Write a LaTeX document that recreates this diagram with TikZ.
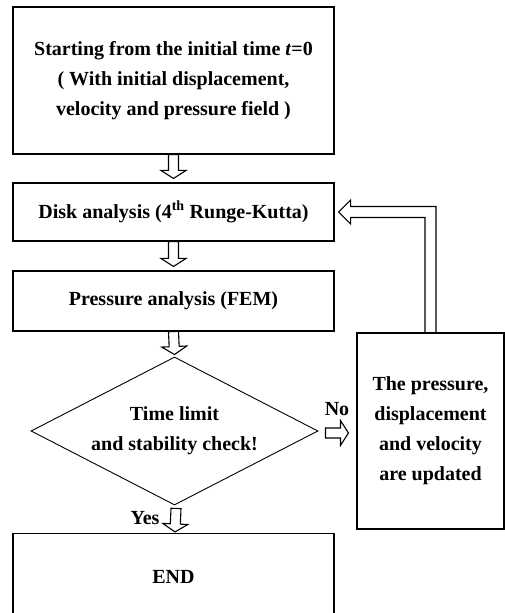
\documentclass[tikz,border=0pt]{standalone}
\usepackage{fontspec}
\setmainfont{Liberation Serif}
\usetikzlibrary{shapes,arrows,positioning,calc}
\newcommand{\ashaft}{5pt}
\newcommand{\ahead}{12.5pt}
\newcommand{\alen}{8pt}
\newcommand{\barrow}[2]{
  \coordinate (tail) at #1;
  \coordinate (tip) at #2;
  \coordinate (hb) at ($(tip)!\alen!(tail)$);
  \draw ($(tail)!\ashaft!90:(tip)$) -- ($(hb)!\ashaft!90:(tip)$) -- ($(hb)!\ahead!90:(tip)$)
    -- (tip) -- ($(hb)!\ahead!-90:(tip)$) -- ($(hb)!\ashaft!-90:(tip)$) -- ($(tail)!\ashaft!-90:(tip)$) -- cycle;
}

\begin{document}
\begin{tikzpicture}[x=1pt,y=1pt,line width=1.1pt,line join=miter,
  txt/.style={font=\bfseries\fontsize{20}{30}\selectfont,align=center},
  box/.style={txt,draw,rectangle,minimum width=321,minimum height=#1,inner sep=0pt}]
  \useasboundingbox (0,0) rectangle (505,613);

  \node[box=147] (start) at (173.5,532.5) {Starting from the initial time \textit{t}=0\\( With initial displacement,\\velocity and pressure field )};
  \node[box=58] (disk) at (173.5,401) {Disk analysis (4\textsuperscript{th} Runge-Kutta)};
  \node[box=60] (fem) at (173.5,312) {Pressure analysis (FEM)};
  \node[txt,draw,diamond,aspect=1.94,minimum width=287,minimum height=148,inner sep=0pt,line width=0.9pt] (chk) at (174.5,182) {Time limit\\and stability check!};
  \node[box=86] (fin) at (173.5,36.5) {END};
  \node[txt,draw,rectangle,minimum width=147,minimum height=196,inner sep=0pt] (upd) at (430.5,182) {The pressure,\\displacement\\and velocity\\are updated};

  \barrow{(start.south)}{($(disk.north)+(0,4)$)}
  \barrow{(disk.south)}{($(fem.north)+(0,4)$)}
  \barrow{(fem.south)}{($(chk.north)+(0,2)$)}
  \barrow{($(chk.south)+(1.5,-3)$)}{($(fin.north)+(1.5,1)$)}
  \barrow{($(chk.east)+(7,-2)$)}{($(upd.west)+(-8,-2)$)}

  % feedback to the disk analysis
  \coordinate (fb) at ($(disk.east)+(4,0)$);
  \draw ($(upd.north)+(-5.5,0)$) |- ($(fb)+(12,-5.5)$) -- ($(fb)+(12,-12)$) -- (fb)
    -- ($(fb)+(12,12)$) -- ($(fb)+(12,5.5)$) -| ($(upd.north)+(5.5,0)$);

  \node[txt] (no) at (337,204) {No};
  \node[txt] (yes) at (145,95) {Yes};
\end{tikzpicture}
\end{document}
